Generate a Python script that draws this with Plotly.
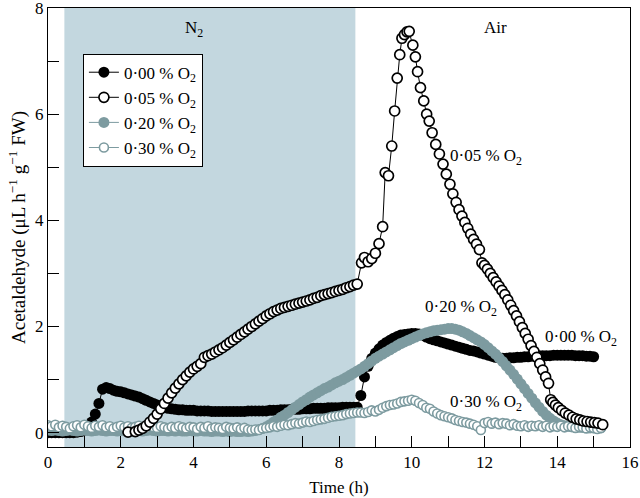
import plotly.graph_objects as go

# ---------------- data ----------------
# sampling times (h) for the dense series
t_000 = [round(0.1 * i, 1) for i in range(151)]   # 0.0 .. 15.0
t_020 = [round(0.1 * i, 1) for i in range(153)]   # 0.0 .. 15.2
t_030 = [round(0.1 * i, 1) for i in range(153)]   # 0.0 .. 15.2

y_000 = [
    0, 0, 0, 0, 0, 0, 0, 0, 0.01, 0.02,
    0.05, 0.1, 0.2, 0.35, 0.55, 0.82, 0.85, 0.83, 0.8, 0.78,
    0.77, 0.75, 0.73, 0.71, 0.69, 0.67, 0.64, 0.61, 0.58, 0.55,
    0.52, 0.5, 0.48, 0.46, 0.45, 0.44, 0.43, 0.43, 0.42, 0.42,
    0.42, 0.41, 0.41, 0.41, 0.41, 0.4, 0.4, 0.4, 0.4, 0.4,
    0.4, 0.4, 0.4, 0.4, 0.4, 0.41, 0.41, 0.41, 0.41, 0.41,
    0.41, 0.42, 0.42, 0.42, 0.43, 0.43, 0.43, 0.44, 0.44, 0.44,
    0.45, 0.45, 0.45, 0.46, 0.46, 0.46, 0.46, 0.47, 0.47, 0.47,
    0.47, 0.48, 0.48, 0.48, 0.48, 0.48, 0.7, 1.05, 1.25, 1.4,
    1.5, 1.58, 1.65, 1.7, 1.74, 1.78, 1.81, 1.84, 1.85, 1.86,
    1.87, 1.87, 1.86, 1.84, 1.8, 1.77, 1.75, 1.73, 1.71, 1.69,
    1.67, 1.65, 1.63, 1.61, 1.59, 1.57, 1.55, 1.54, 1.52, 1.5,
    1.48, 1.46, 1.44, 1.42, 1.41, 1.4, 1.4, 1.41, 1.41, 1.42,
    1.42, 1.43, 1.43, 1.44, 1.44, 1.45, 1.45, 1.45, 1.45, 1.46,
    1.46, 1.46, 1.46, 1.46, 1.46, 1.45, 1.45, 1.45, 1.44, 1.44,
    1.43,
]

y_020 = [
    0.05, 0.04, 0.05, 0.04, 0.03, 0.04, 0.05, 0.04, 0.03, 0.04,
    0.05, 0.04, 0.03, 0.04, 0.05, 0.04, 0.03, 0.04, 0.04, 0.03,
    0.04, 0.05, 0.04, 0.03, 0.04, 0.04, 0.03, 0.04, 0.05, 0.04,
    0.03, 0.04, 0.04, 0.03, 0.04, 0.03, 0.04, 0.03, 0.03, 0.04,
    0.03, 0.03, 0.04, 0.03, 0.03, 0.02, 0.03, 0.03, 0.02, 0.03,
    0.02, 0.03, 0.02, 0.02, 0.03, 0.02, 0.03, 0.04, 0.06, 0.08,
    0.11, 0.15, 0.2, 0.24, 0.29, 0.33, 0.38, 0.43, 0.48, 0.53,
    0.58, 0.62, 0.67, 0.71, 0.75, 0.79, 0.83, 0.86, 0.9, 0.94,
    0.97, 1.0, 1.04, 1.08, 1.12, 1.16, 1.2, 1.25, 1.3, 1.35,
    1.4, 1.44, 1.48, 1.52, 1.56, 1.6, 1.64, 1.68, 1.71, 1.74,
    1.77, 1.8, 1.83, 1.86, 1.88, 1.9, 1.92, 1.93, 1.94, 1.95,
    1.96, 1.96, 1.95, 1.93, 1.9, 1.87, 1.83, 1.79, 1.75, 1.71,
    1.66, 1.6, 1.54, 1.48, 1.41, 1.34, 1.26, 1.18, 1.1, 1.01,
    0.92, 0.83, 0.74, 0.65, 0.56, 0.48, 0.4, 0.33, 0.27, 0.22,
    0.18, 0.15, 0.13, 0.12, 0.11, 0.1, 0.1, 0.1, 0.1, 0.09,
    0.09, 0.09, 0.09,
]

y_030 = [
    0.14, 0.12, 0.15, 0.1, 0.13, 0.11, 0.08, 0.12, 0.14, 0.1,
    0.15, 0.12, 0.09, 0.13, 0.11, 0.14, 0.1, 0.12, 0.08, 0.11,
    0.13, 0.1, 0.12, 0.09, 0.11, 0.13, 0.1, 0.08, 0.12, 0.1,
    0.09, 0.12, 0.1, 0.08, 0.11, 0.09, 0.12, 0.1, 0.08, 0.11,
    0.1, 0.07, 0.11, 0.09, 0.12, 0.08, 0.1, 0.09, 0.07, 0.11,
    0.09, 0.08, 0.1, 0.07, 0.09, 0.06, 0.05, 0.06, 0.05, 0.08,
    0.09, 0.1, 0.12, 0.11, 0.13, 0.15, 0.14, 0.16, 0.18, 0.17,
    0.19, 0.21, 0.2, 0.22, 0.24, 0.25, 0.26, 0.28, 0.3, 0.31,
    0.32, 0.33, 0.35, 0.36, 0.37, 0.38, 0.38, 0.37, 0.39, 0.42,
    0.4, 0.43, 0.47, 0.5, 0.52, 0.53, 0.55, 0.58, 0.59, 0.6,
    0.62, 0.6, 0.56, 0.52, 0.47, 0.45, 0.4, 0.36, 0.33, 0.31,
    0.29, 0.27, 0.24, 0.22, 0.2, 0.19, 0.17, 0.15, 0.12, 0.05,
    0.18, 0.2, 0.17, 0.19, 0.16, 0.18, 0.17, 0.14, 0.16, 0.13,
    0.12, 0.14, 0.11, 0.13, 0.12, 0.14, 0.11, 0.13, 0.1, 0.12,
    0.11, 0.13, 0.1, 0.12, 0.11, 0.09, 0.11, 0.1, 0.08, 0.1,
    0.09, 0.07, 0.09,
]

t_005 = [
    2.2, 2.4, 2.5, 2.6, 2.7,
    2.8, 2.9, 3.0, 3.1, 3.2, 3.3, 3.4, 3.5, 3.6, 3.7, 3.8, 3.9, 4.0, 4.1, 4.2, 4.3,
    4.4, 4.5, 4.6, 4.7, 4.8, 4.9, 5.0, 5.1, 5.2, 5.3, 5.4, 5.5, 5.6, 5.7, 5.8, 5.9,
    6.0, 6.1, 6.2, 6.3, 6.4, 6.5, 6.6, 6.7, 6.8, 6.9, 7.0, 7.1, 7.2, 7.3, 7.4, 7.5,
    7.6, 7.7, 7.8, 7.9, 8.0, 8.1, 8.2, 8.3, 8.4, 8.5,
    8.62, 8.7, 8.8, 8.9, 9.0, 9.1, 9.2, 9.27, 9.36, 9.45, 9.53, 9.6, 9.67, 9.73,
    9.8, 9.87, 9.93, 10.03, 10.1, 10.16, 10.24, 10.33, 10.41, 10.48, 10.56, 10.66,
    10.76, 10.86, 10.95, 11.05, 11.13, 11.22, 11.3, 11.38, 11.46, 11.54, 11.62,
    11.7, 11.78, 11.86, 11.93, 12.0, 12.08, 12.16, 12.24, 12.32, 12.4, 12.48, 12.56,
    12.64, 12.72, 12.8, 12.88, 12.96, 13.04, 13.12, 13.2, 13.28, 13.36, 13.44,
    13.52, 13.6, 13.68, 13.76, 13.82, 13.88, 13.95, 14.03, 14.12, 14.22, 14.32,
    14.42, 14.52, 14.62, 14.72, 14.82, 14.92, 15.02, 15.12, 15.25,
]
y_005 = [
    0.01, 0.02, 0.05, 0.08, 0.13,
    0.2, 0.27, 0.35, 0.45, 0.55, 0.65, 0.75, 0.84, 0.92, 1.0, 1.07, 1.14, 1.2, 1.25, 1.3, 1.42,
    1.45, 1.48, 1.52, 1.56, 1.6, 1.65, 1.7, 1.75, 1.8, 1.85, 1.9, 1.95, 2.0, 2.05, 2.1, 2.15,
    2.2, 2.24, 2.28, 2.31, 2.34, 2.36, 2.38, 2.4, 2.42, 2.44, 2.46, 2.48, 2.5, 2.53, 2.55, 2.58,
    2.6, 2.62, 2.64, 2.66, 2.68, 2.7, 2.73, 2.75, 2.78, 2.8,
    3.2, 3.3, 3.22, 3.28, 3.38, 3.56, 3.88, 4.9, 4.84, 5.4, 6.06, 6.68, 7.12, 7.43,
    7.5, 7.55, 7.56, 7.3, 7.08, 6.8, 6.5, 6.25, 6.0, 5.87, 5.65, 5.43,
    5.25, 5.06, 4.87, 4.68, 4.5, 4.34, 4.2, 4.08, 3.96, 3.85, 3.74,
    3.64, 3.55, 3.45, 3.2, 3.15, 3.08, 3.0, 2.92, 2.84, 2.76, 2.68, 2.6,
    2.5, 2.4, 2.3, 2.2, 2.09, 1.98, 1.87, 1.76, 1.64, 1.53, 1.42,
    1.3, 1.18, 1.05, 0.93, 0.62, 0.57, 0.52, 0.47, 0.42, 0.37, 0.33,
    0.29, 0.26, 0.24, 0.22, 0.21, 0.2, 0.19, 0.18, 0.15,
]

series_names = ["0·00 % O<sub>2</sub>", "0·05 % O<sub>2</sub>",
                "0·20 % O<sub>2</sub>", "0·30 % O<sub>2</sub>"]

GRAY = "#7d9ba0"
SHADE = "#c3d7df"
FONT = "Liberation Serif"
FS = 17

fig = go.Figure()

# N2 period shading
fig.add_shape(type="rect", xref="x", yref="paper", x0=0.45, x1=8.45, y0=0, y1=1,
              fillcolor=SHADE, line=dict(width=0), layer="below")

fig.add_trace(go.Scatter(
    x=t_000, y=y_000, name=series_names[0], mode="lines+markers", legendrank=1,
    line=dict(color="black", width=1),
    marker=dict(symbol="circle", size=11, color="black", line=dict(width=0)),
))
fig.add_trace(go.Scatter(
    x=t_020, y=y_020, name=series_names[2], mode="lines+markers", legendrank=3,
    line=dict(color=GRAY, width=1),
    marker=dict(symbol="circle", size=11, color=GRAY, line=dict(width=0)),
))
fig.add_trace(go.Scatter(
    x=t_030, y=y_030, name=series_names[3], mode="lines+markers", legendrank=4,
    line=dict(color=GRAY, width=1),
    marker=dict(symbol="circle", size=9, color="white", line=dict(color=GRAY, width=1.6)),
))
fig.add_trace(go.Scatter(
    x=t_005, y=y_005, name=series_names[1], mode="lines+markers", legendrank=2,
    line=dict(color="black", width=1),
    marker=dict(symbol="circle", size=10, color="white", line=dict(color="black", width=1.7)),
))

ann_font = dict(family=FONT, size=FS, color="black")
annotations = [
    dict(x=4.0, y=7.6, text="N<sub>2</sub>", showarrow=False, font=ann_font),
    dict(x=12.3, y=7.63, text="Air", showarrow=False, font=ann_font),
    dict(x=11.0, y=5.2, text="0·05 % O<sub>2</sub>", showarrow=False, font=ann_font, xanchor="left"),
    dict(x=10.3, y=2.35, text="0·20 % O<sub>2</sub>", showarrow=False, font=ann_font, xanchor="left"),
    dict(x=13.6, y=1.78, text="0·00 % O<sub>2</sub>", showarrow=False, font=ann_font, xanchor="left"),
    dict(x=11.0, y=0.56, text="0·30 % O<sub>2</sub>", showarrow=False, font=ann_font, xanchor="left"),
]

fig.update_layout(
    width=640, height=498,
    margin=dict(l=48, r=10, t=8, b=51, autoexpand=False),
    paper_bgcolor="white", plot_bgcolor="white",
    font=dict(family=FONT, size=FS, color="black"),
    annotations=annotations,
    showlegend=True,
    legend=dict(x=0.06, y=0.896, xanchor="left", yanchor="top",
                bgcolor="white", bordercolor="black", borderwidth=1,
                font=dict(family=FONT, size=FS), tracegroupgap=0,
                itemwidth=30),
)
fig.update_xaxes(
    range=[0, 16], dtick=2, ticks="inside", ticklen=11, tickwidth=1, tickcolor="black",
    minor=dict(dtick=1, ticks="inside", ticklen=11, tickwidth=1, tickcolor="black"),
    showline=True, linecolor="black", linewidth=1, mirror=True,
    showgrid=False, zeroline=False, automargin=False, ticklabeloverflow="allow",
    title=dict(text="Time (h)", font=dict(family=FONT, size=FS), standoff=9),
    tickfont=dict(family=FONT, size=FS),
)
fig.update_yaxes(
    range=[-0.27, 8], tickvals=[0, 2, 4, 6, 8], ticks="inside", ticklen=11, tickwidth=1,
    tickcolor="black",
    minor=dict(tickvals=[1, 3, 5, 7], ticks="inside", ticklen=11, tickwidth=1, tickcolor="black"),
    showline=True, linecolor="black", linewidth=1, mirror=True,
    showgrid=False, zeroline=False, automargin=False, ticklabeloverflow="allow",
    title=dict(text="Acetaldehyde (μL h<sup>−1</sup> g<sup>−1</sup> FW)",
               font=dict(family=FONT, size=19), standoff=4),
    tickfont=dict(family=FONT, size=FS),
)

# remove the browser's default 8px page margin so the figure fills the window
fig.write_html("out.html", config={"displayModeBar": False},
               post_script="document.body.style.margin='0';document.body.style.overflow='hidden';")
